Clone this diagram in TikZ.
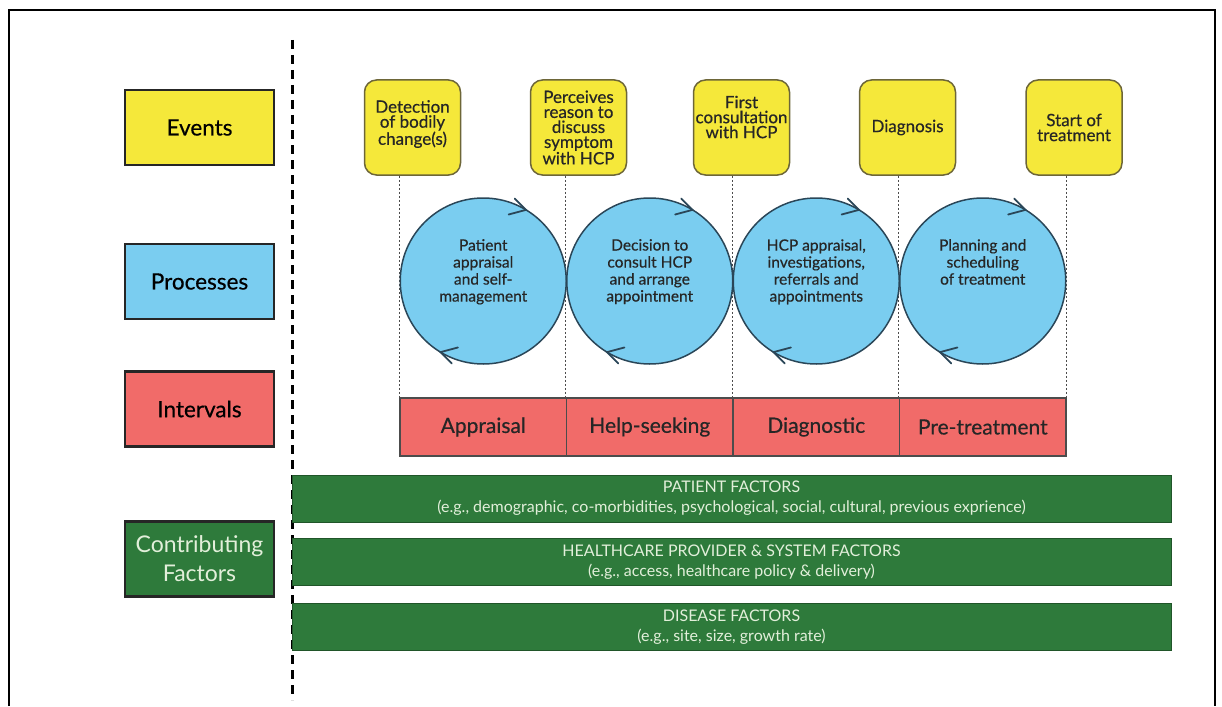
\documentclass[tikz,border=0pt]{standalone}
\usepackage{fontspec}
\setmainfont{Lato}
\newfontfamily\medfont{Lato}[FakeBold=0.5]

\definecolor{evyellow}{HTML}{F5E83A}
\definecolor{evborder}{HTML}{6D6638}
\definecolor{prblue}{HTML}{7ACDF0}
\definecolor{prborder}{HTML}{2A4658}
\definecolor{ivred}{HTML}{F16B69}
\definecolor{cfgreen}{HTML}{2E7A3B}
\definecolor{cftext}{HTML}{E2EFDA}

\begin{document}
\begin{tikzpicture}
  [x=1pt, y=-1pt,
   rowlabel/.style={draw=black!85, line width=2.5pt, minimum width=149pt,
     minimum height=75pt, align=center, font=\medfont\fontsize{22.5}{28}\selectfont},
   event/.style={draw=evborder, line width=1.5pt, rounded corners=12pt,
     fill=evyellow, minimum width=96pt, minimum height=95pt, inner sep=1pt,
     align=center, text=black!85, font=\medfont\fontsize{17}{15}\selectfont},
   process/.style={circle, draw=prborder, line width=1.5pt, fill=prblue,
     minimum size=166pt, inner sep=0pt},
   proctext/.style={anchor=north, align=center, inner sep=0pt,
     text=black!85, font=\medfont\fontsize{15.5}{17}\selectfont},
   chevron/.style={draw=prborder, line width=1.8pt, line cap=round, line join=miter},
   interval/.style={draw=black!70, line width=1.5pt, fill=ivred,
     minimum width=166.5pt, minimum height=58pt, text=black!85,
     font=\medfont\fontsize{21}{24}\selectfont},
   factor/.style={draw=cfgreen!70!black, line width=1pt, fill=cfgreen,
     minimum width=879pt, minimum height=47pt, align=center, text=cftext,
     font=\fontsize{16}{20}\selectfont},
   guide/.style={black!70, line width=1.4pt, dash pattern=on 2pt off 2pt}]

  \useasboundingbox (0,0) rectangle (1222,706);

  % Moldura e linha divisória
  \draw[line width=1.5pt] (9,706) -- (9,10) -- (1215,10) -- (1215,706);
  \draw[line width=3pt, dash pattern=on 9pt off 6pt] (292,40) -- (292,700);

  % Rótulos das linhas
  \node[rowlabel, fill=evyellow] (events) at (199.5,127.5) {Events};
  \node[rowlabel, fill=prblue] (processes) at (199.5,281.5) {Processes};
  \node[rowlabel, fill=ivred] (intervals) at (199.5,409) {Intervals};
  \node[rowlabel, fill=cfgreen, text=cftext, font=\fontsize{23}{29}\selectfont]
    (factors) at (199.5,559) {Contributing\\Factors};

  % Eventos
  \node[event] (ev1) at (412.5,127.5) {Detection\\of bodily\\change(s)\\[-5pt]};
  \node[event] (ev2) at (578.5,127.5) {Perceives\\reason to\\discuss\\symptom\\with HCP};
  \node[event] (ev3) at (741.5,127.5) {First\\consultation\\with HCP\\[6pt]};
  \node[event] (ev4) at (907.5,127.5) {Diagnosis};
  \node[event] (ev5) at (1074,127.5) {Start of\\treatment};

  % Intervalos
  \node[interval] (iv1) at (483.25,427) {Appraisal};
  \node[interval] (iv2) at (649.75,427) {Help-seeking};
  \node[interval] (iv3) at (816.25,427) {Diagnostic};
  \node[interval] (iv4) at (982.75,427) {Pre-treatment};

  % Linhas pontilhadas dos eventos aos intervalos
  \draw[guide] (ev1.south -| iv1.north west) -- (iv1.north west);
  \draw[guide] (ev2.south -| iv2.north west) -- (iv2.north west);
  \draw[guide] (ev3.south -| iv3.north west) -- (iv3.north west);
  \draw[guide] (ev4.south -| iv4.north west) -- (iv4.north west);
  \draw[guide] (ev5.south -| iv4.north east) -- (iv4.north east);

  % Processos
  \node[process] (pr1) at (483.25,281) {};
  \node[process] (pr2) at (649.75,281) {};
  \node[process] (pr3) at (816.25,281) {};
  \node[process] (pr4) at (982.75,281) {};

  \node[proctext] (pt1) at ([yshift=42pt]pr1.center) {Patient\\appraisal\\and self-\\management};
  \node[proctext] (pt2) at ([yshift=42pt]pr2.center) {Decision to\\consult HCP\\and arrange\\appointment};
  \node[proctext] (pt3) at ([yshift=42pt]pr3.center) {HCP appraisal,\\investigations,\\referrals and\\appointments};
  \node[proctext] (pt4) at ([yshift=42pt]pr4.center) {Planning and\\scheduling\\of treatment};

  % Setas do ciclo
  \foreach \p in {pr1,pr2,pr3,pr4} {
    \draw[chevron] ([shift={(59:83pt)}]\p.center) ++(135:16pt) -- ++(-45:16pt) -- ++(195:18pt);
    \draw[chevron] ([shift={(239:83pt)}]\p.center) ++(-45:16pt) -- ++(135:16pt) -- ++(15:18pt);
  }

  % Fatores contribuintes
  \node[factor] (patient) at (731.5,498.5)
    {PATIENT FACTORS\\(e.g., demographic, co-morbidities, psychological, social, cultural, previous exprience)};
  \node[factor] (provider) at (731.5,562)
    {HEALTHCARE PROVIDER \& SYSTEM FACTORS\\(e.g., access, healthcare policy \& delivery)};
  \node[factor] (disease) at (731.5,627)
    {DISEASE FACTORS\\(e.g., site, size, growth rate)};
\end{tikzpicture}
\end{document}
